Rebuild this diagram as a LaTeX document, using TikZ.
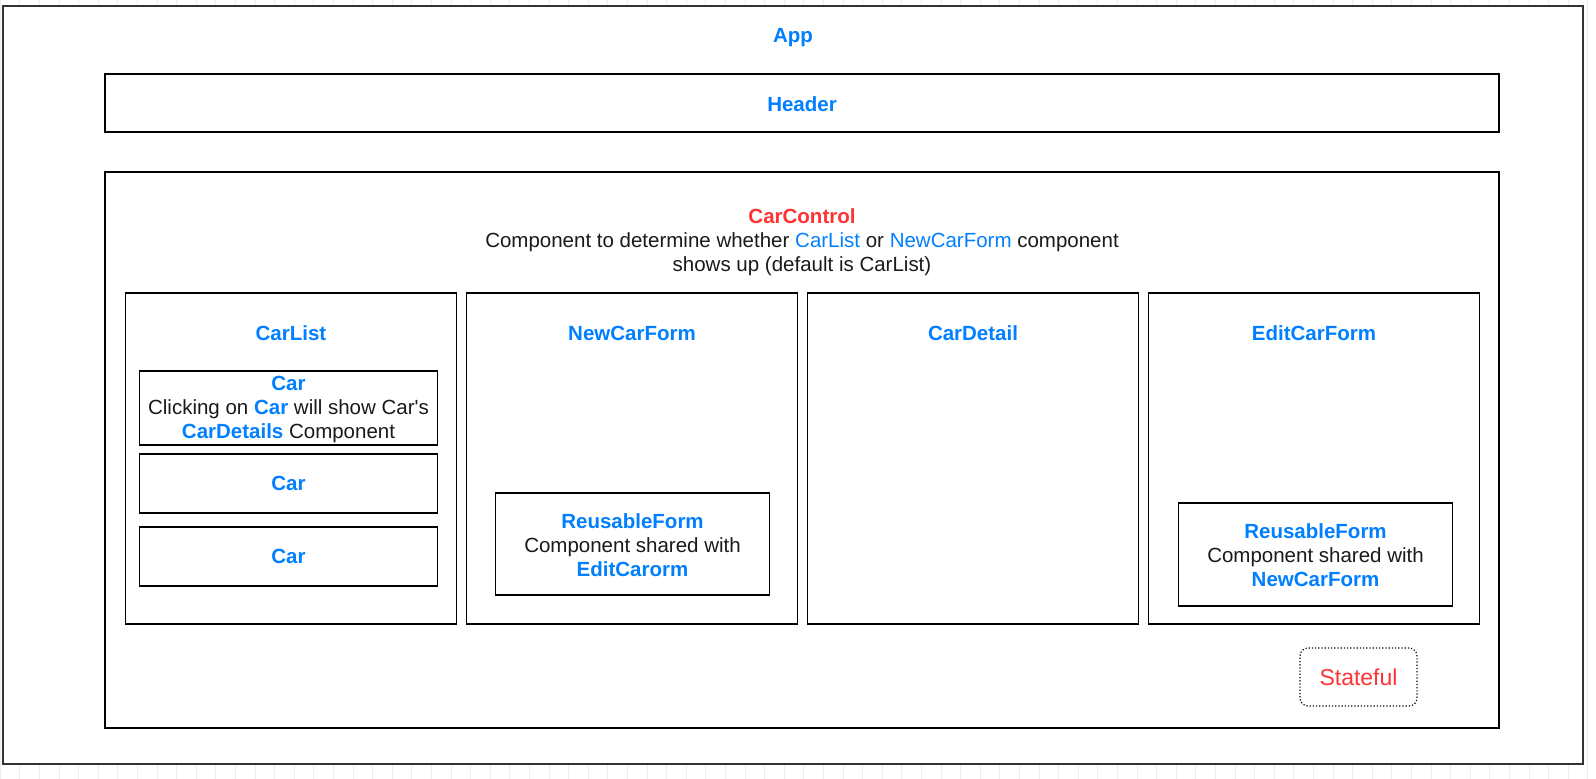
\documentclass[tikz,border=0pt]{standalone}
\usepackage{fontspec}
\setmainfont{Liberation Sans}
\usetikzlibrary{positioning, calc}
\definecolor{compblue}{HTML}{007FFF}
\definecolor{statered}{HTML}{FF3333}
\definecolor{inktext}{HTML}{1A1A1A}
\definecolor{edgegray}{HTML}{333333}
\newcommand{\comp}[1]{\textcolor{compblue}{\textbf{#1}}}

\begin{document}
\begin{tikzpicture}[
    x=1pt, y=-1pt,
    box/.style={draw=black, line width=1.2pt, fill=white, inner sep=0pt, outer sep=0pt, anchor=north west},
    column/.style={box, minimum width=331pt, minimum height=331pt},
    title/.style={font=\fontsize{20.5}{24}\selectfont\bfseries, text=compblue},
    body/.style={font=\fontsize{20.5}{24}\selectfont, text=inktext, align=center, inner sep=0pt},
    gridline/.style={draw=gray!14, line width=0.6pt}
  ]
    \useasboundingbox (0,0) rectangle (1596,779);
    % faint canvas grid
    \draw[gridline] (0,-17.6) grid[step=19.6] (1596,779);

    % App
    \node[box, draw=edgegray, line width=1.6pt, minimum width=1580pt, minimum height=758pt] (app) at (3,6) {};
    \node[title] (apptitle) at ($(app.north)+(0,32)$) {App};

    % Header
    \node[box, minimum width=1394pt, minimum height=58pt] (header) at (105,74) {};
    \node[title] (headertitle) at ($(header.center)+(0,1)$) {Header};

    % CarControl
    \node[box, minimum width=1394pt, minimum height=556pt] (control) at (105,172) {};
    \node[body] (controltext) at ($(control.north)+(0,70)$)
      {\textcolor{statered}{\textbf{CarControl}}\\
       Component to determine whether \textcolor{compblue}{CarList} or \textcolor{compblue}{NewCarForm} component\\
       shows up (default is CarList)};

    % Columns
    \node[column] (carlist) at (125.5,293) {};
    \node[column, right=10pt of carlist.north east, anchor=north west] (newform) {};
    \node[column, right=10pt of newform.north east, anchor=north west] (detail) {};
    \node[column, right=10pt of detail.north east, anchor=north west] (editform) {};
    \node[title] (carlisttitle) at ($(carlist.north)+(0,40)$) {CarList};
    \node[title] (newformtitle) at ($(newform.north)+(0,40)$) {NewCarForm};
    \node[title] (detailtitle) at ($(detail.north)+(0,40)$) {CarDetail};
    \node[title] (editformtitle) at ($(editform.north)+(0,40)$) {EditCarForm};

    % Cars
    \node[box, minimum width=298pt, minimum height=74pt] (car1) at (139.5,371) {};
    \node[body] (car1text) at ($(car1.center)+(0,1)$)
      {\comp{Car}\\Clicking on \comp{Car} will show Car\textquotesingle s\\\comp{CarDetails} Component};
    \node[box, minimum width=298pt, minimum height=59pt] (car2) at (139.5,454) {};
    \node[title] (car2text) at (car2.center) {Car};
    \node[box, minimum width=298pt, minimum height=59pt] (car3) at (139.5,527) {};
    \node[title] (car3text) at (car3.center) {Car};

    % Reusable forms
    \node[box, minimum width=274pt, minimum height=102pt] (reuseleft) at (495.5,493) {};
    \node[body] (reuselefttext) at ($(reuseleft.center)+(0,1)$)
      {\comp{ReusableForm}\\Component shared with\\\comp{EditCarorm}};
    \node[box, minimum width=274pt, minimum height=103pt] (reuseright) at (1178.5,503) {};
    \node[body] (reuserighttext) at ($(reuseright.center)+(0,1)$)
      {\comp{ReusableForm}\\Component shared with\\\comp{NewCarForm}};

    % Legend
    \node[draw=black, dotted, line width=1.2pt, rounded corners=8pt, minimum width=117pt, minimum height=58pt,
          font=\fontsize{23}{27}\selectfont, text=statered] (stateful) at (1358.5,677) {Stateful};
  \end{tikzpicture}
\end{document}
